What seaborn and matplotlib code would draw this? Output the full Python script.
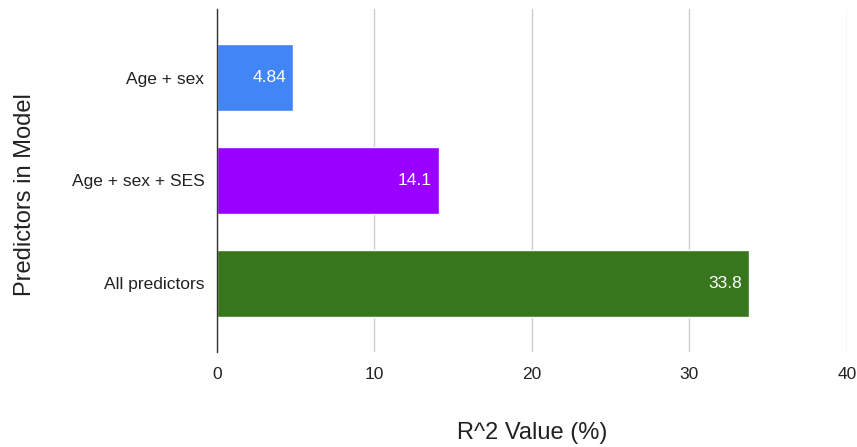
import matplotlib
matplotlib.use("Agg")
import matplotlib.pyplot as plt
import seaborn as sns
import pandas as pd

categories = ["Age + sex", "Age + sex + SES", "All predictors"]
values = [4.84, 14.1, 33.8]
labels = ["4.84", "14.1", "33.8"]
colors = ["#4285F4", "#9900FF", "#38761D"]
xticks = [0, 10, 20, 30, 40]

sns.set_theme(style="white")
plt.rcParams['font.family'] = ['Liberation Sans', 'DejaVu Sans']

df = pd.DataFrame({"Predictors in Model": categories, "R2": values})

fig = plt.figure(figsize=(8.57, 4.47), dpi=100)
ax = fig.add_axes([0.2532, 0.2125, 0.9883 - 0.2532, 0.9799 - 0.2125])
sns.barplot(data=df, y="Predictors in Model", x="R2", hue="Predictors in Model",
            palette=colors, orient="h", width=0.65, ax=ax, legend=False,
            saturation=1)
ax.set_xlim(0, 40)
ax.set_ylim(2.67, -0.67)
ax.set_xticks(xticks)
ax.set_xticklabels([str(t) for t in xticks], fontsize=12.5, color="#222222")
ax.tick_params(axis="y", labelsize=12.5, colors="#222222", length=0, pad=9)
ax.tick_params(axis="x", length=0, pad=11)
ax.xaxis.grid(True, color="#cccccc", linewidth=1)
ax.set_axisbelow(True)
for s in ["top", "right", "bottom"]:
    ax.spines[s].set_visible(False)
ax.spines["left"].set_color("#333333")
ax.spines["left"].set_linewidth(1)

for i, (v, lab) in enumerate(zip(values, labels)):
    ax.text(v - 0.45, i, lab, ha="right", va="center", color="white", fontsize=12.5)

ax.set_xlabel("R^2 Value (%)", fontsize=17, color="#222222")
ax.set_ylabel("Predictors in Model", fontsize=17, color="#222222")
ax.xaxis.set_label_coords(0.5, -0.203)
ax.yaxis.set_label_coords(-0.287, 0.459)

fig.savefig("out.png", dpi=100)
